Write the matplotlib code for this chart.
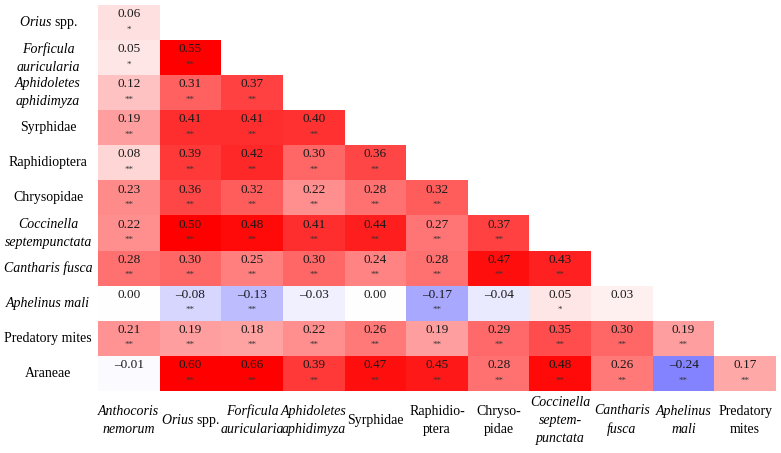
import numpy as np
import matplotlib.pyplot as plt

plt.rcParams['font.family'] = 'Liberation Serif'
plt.rcParams['mathtext.fontset'] = 'custom'
plt.rcParams['mathtext.it'] = 'Liberation Serif:italic'
plt.rcParams['mathtext.rm'] = 'Liberation Serif'

# row / column labels (italic flag)
row_labels = [r"$\mathit{Orius}$ spp.", "Forficula\nauricularia", "Aphidoletes\naphidimyza",
              "Syrphidae", "Raphidioptera", "Chrysopidae", "Coccinella\nseptempunctata",
              "Cantharis fusca", "Aphelinus mali", "Predatory mites", "Araneae"]
row_italic = [False, True, True, False, False, False, True, True, True, False, False]

col_labels = ["Anthocoris\nnemorum", r"$\mathit{Orius}$ spp.", "Forficula\nauricularia",
              "Aphidoletes\naphidimyza", "Syrphidae", "Raphidio-\nptera", "Chryso-\npidae",
              "Coccinella\nseptem-\npunctata", "Cantharis\nfusca", "Aphelinus\nmali",
              "Predatory\nmites"]
col_italic = [True, False, True, True, False, False, False, True, True, True, False]

# correlation values, lower triangle
corr = [
    [0.06],
    [0.05, 0.55],
    [0.12, 0.31, 0.37],
    [0.19, 0.41, 0.41, 0.40],
    [0.08, 0.39, 0.42, 0.30, 0.36],
    [0.23, 0.36, 0.32, 0.22, 0.28, 0.32],
    [0.22, 0.50, 0.48, 0.41, 0.44, 0.27, 0.37],
    [0.28, 0.30, 0.25, 0.30, 0.24, 0.28, 0.47, 0.43],
    [0.00, -0.08, -0.13, -0.03, 0.00, -0.17, -0.04, 0.05, 0.03],
    [0.21, 0.19, 0.18, 0.22, 0.26, 0.19, 0.29, 0.35, 0.30, 0.19],
    [-0.01, 0.60, 0.66, 0.39, 0.47, 0.45, 0.28, 0.48, 0.26, -0.24, 0.17],
]
# significance marks
signif = [
    ["*"],
    ["*", "**"],
    ["**", "**", "**"],
    ["**", "**", "**", "**"],
    ["**", "**", "**", "**", "**"],
    ["**", "**", "**", "**", "**", "**"],
    ["**", "**", "**", "**", "**", "**", "**"],
    ["**", "**", "**", "**", "**", "**", "**", "**"],
    ["", "**", "**", "", "", "**", "", "*", ""],
    ["**", "**", "**", "**", "**", "**", "**", "**", "**", "**"],
    ["", "**", "**", "**", "**", "**", "**", "**", "**", "**", "**"],
]

n = len(row_labels)
mat = np.full((n, n), np.nan)
for i, row in enumerate(corr):
    mat[i, :len(row)] = row

fig = plt.figure(figsize=(7.81, 4.53), dpi=100)
ax = fig.add_axes([98/781, 1-391/453, 678/781, 386/453])
cmap = plt.get_cmap('bwr').copy()
cmap.set_bad('white')
ax.imshow(np.ma.masked_invalid(mat), cmap=cmap, vmin=-0.5, vmax=0.5, aspect='auto')

for i, row in enumerate(corr):
    for j, v in enumerate(row):
        s = f"{abs(v):.2f}"
        if v < 0:
            s = "\u2013" + s
        ax.text(j, i - 0.24, s, ha='center', va='center', fontsize=9.5, color='#1a1a1a')
        if signif[i][j]:
            ax.text(j, i + 0.2, signif[i][j], ha='center', va='center', fontsize=6.5, color='#333333')

for i, lab in enumerate(row_labels):
    ax.text(-1.31, i, lab, ha='center', va='center', fontsize=10,
            style='italic' if row_italic[i] else 'normal', linespacing=1.5, clip_on=False)
for j, lab in enumerate(col_labels):
    ax.text(j, 11.33, lab, ha='center', va='center', fontsize=10,
            style='italic' if col_italic[j] else 'normal', linespacing=1.5, clip_on=False)

ax.set_xlim(-0.5, n - 0.5)
ax.set_ylim(n - 0.5, -0.5)
ax.axis('off')

fig.savefig('out.png', dpi=100)
